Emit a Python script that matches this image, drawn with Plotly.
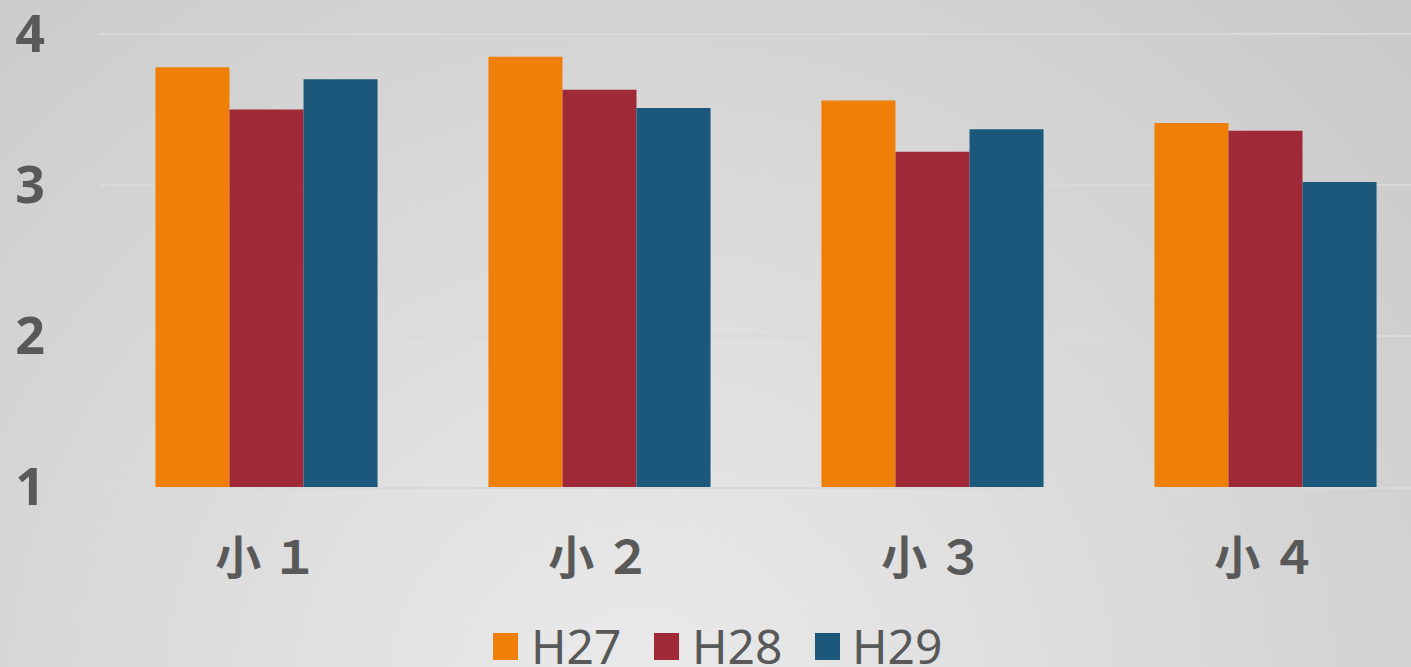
import base64
import struct
import zlib

import numpy as np
import plotly.graph_objects as go

# ---------------- data ----------------
categories = ["小 １", "小 ２", "小 ３", "小 ４"]
series_names = ["H27", "H28", "H29"]
h27 = [3.78, 3.85, 3.56, 3.41]
h28 = [3.50, 3.63, 3.22, 3.36]
h29 = [3.70, 3.51, 3.37, 3.02]
colors = ["#F07F09", "#9F2936", "#1B587C"]
y_ticks = [1, 2, 3, 4]

W, H = 1411, 667
ML, MR, MT, MB = 100, 0, 0, 180
plot_w = W - ML - MR
plot_h = H - MT - MB


# ---------------- background gradient (PNG data URI) ----------------
def gray_png(arr):
    h, w = arr.shape
    raw = b"".join(b"\x00" + arr[i].tobytes() for i in range(h))

    def chunk(tag, data):
        c = struct.pack(">I", len(data)) + tag + data
        return c + struct.pack(">I", zlib.crc32(tag + data) & 0xFFFFFFFF)

    return (b"\x89PNG\r\n\x1a\n"
            + chunk(b"IHDR", struct.pack(">IIBBBBB", w, h, 8, 0, 0, 0, 0))
            + chunk(b"IDAT", zlib.compress(raw, 9))
            + chunk(b"IEND", b""))


gw, gh = 706, 334
xs = np.linspace(0, W, gw)
ys = np.linspace(0, H, gh)
X, Y = np.meshgrid(xs, ys)
d = np.sqrt(((X - 640) / 950.0) ** 2 + ((Y - 700) / 900.0) ** 2)
val = np.clip(235 - 30 * d, 185, 240).astype(np.uint8)
bg_uri = "data:image/png;base64," + base64.b64encode(gray_png(val)).decode()

# ---------------- figure ----------------
fig = go.Figure()
for name, vals, col in zip(series_names, [h27, h28, h29], colors):
    fig.add_trace(go.Bar(
        x=categories, y=[v - 1 for v in vals], base=1, name=name,
        marker=dict(color=col, line=dict(width=0)),
        showlegend=False,
    ))

fig.add_layout_image(dict(
    source=bg_uri, xref="paper", yref="paper",
    x=-ML / plot_w, y=1 + MT / plot_h,
    sizex=W / plot_w, sizey=H / plot_h,
    sizing="stretch", xanchor="left", yanchor="top", layer="below",
))

# custom legend (large squares + text)
leg_sq_x = [493, 654, 815]
leg_txt_x = [530, 691, 851]
for name, col, sx, tx in zip(series_names, colors, leg_sq_x, leg_txt_x):
    fig.add_shape(type="rect", xref="paper", yref="paper",
                  x0=(sx - ML) / plot_w, x1=(sx + 25 - ML) / plot_w,
                  y0=(plot_h - (660 - MT)) / plot_h, y1=(plot_h - (633 - MT)) / plot_h,
                  fillcolor=col, line=dict(width=0), layer="above")
    fig.add_annotation(text=name, xref="paper", yref="paper",
                       x=(tx - ML) / plot_w, y=(plot_h - (645 - MT)) / plot_h,
                       xanchor="left", yanchor="middle", showarrow=False,
                       height=42, valign="middle", borderpad=0,
                       font=dict(family="Noto Sans", size=48, color="#595959"))

fig.update_layout(
    width=W, height=H,
    margin=dict(l=ML, r=MR, t=MT, b=MB, pad=0, autoexpand=False),
    paper_bgcolor="rgba(0,0,0,0)",
    plot_bgcolor="rgba(0,0,0,0)",
    barmode="group", bargap=0.333, bargroupgap=0,
    showlegend=False,
    xaxis=dict(
        range=[-0.5, -0.5 + plot_w / 333.0],
        showgrid=False, showline=True, linecolor="#d9d9d9", linewidth=2,
        tickfont=dict(family="Noto Sans CJK JP", size=46, color="#595959", weight="bold"),
        ticks="", ticklabelstandoff=30, zeroline=False, automargin=False,
    ),
    yaxis=dict(
        range=[1, 1 + plot_h / 151.0],
        tickvals=y_ticks, ticktext=[str(t) for t in y_ticks],
        showgrid=True, gridcolor="#d9d9d9", gridwidth=2,
        zeroline=False, showline=False, ticks="",
        tickfont=dict(family="Noto Sans", size=52, color="#595959", weight="bold"),
        ticklabelstandoff=54, ticklabeloverflow="allow", automargin=False,
    ),
)

fig.write_html("out.html")
